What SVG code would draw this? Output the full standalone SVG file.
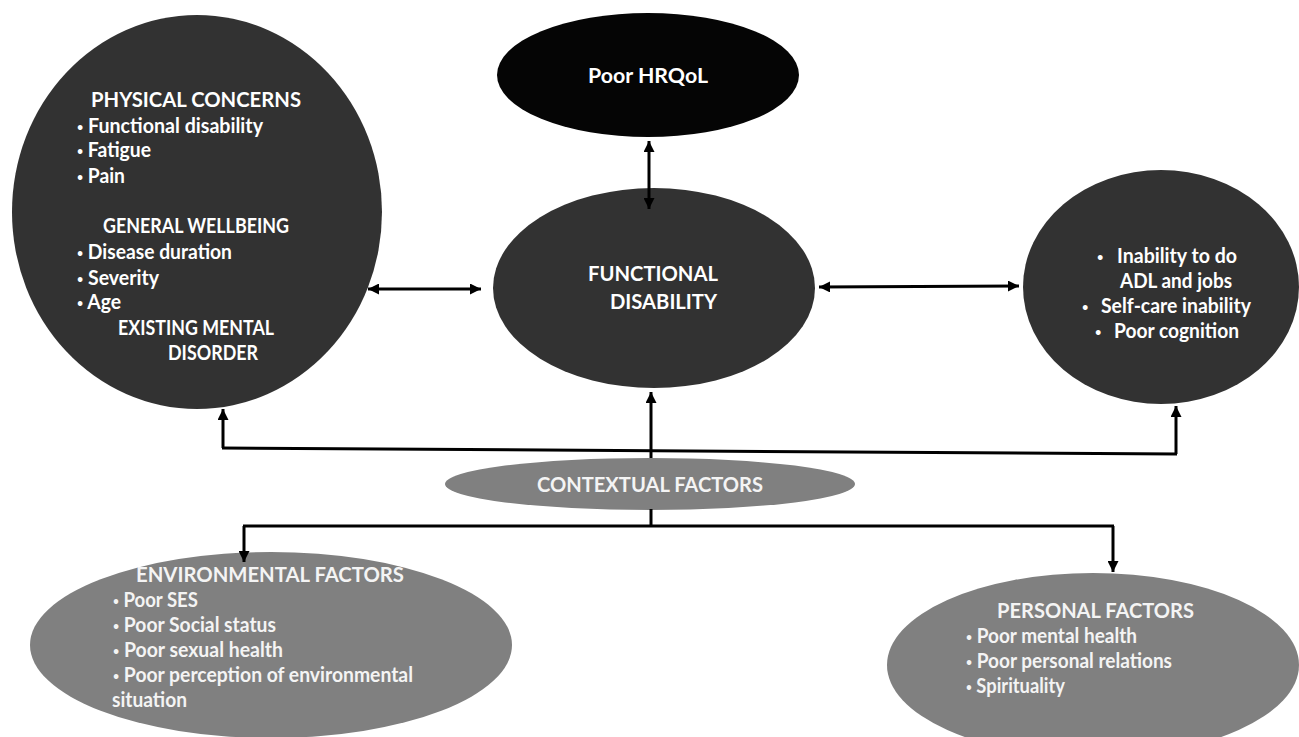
<svg xmlns="http://www.w3.org/2000/svg" width="1299" height="737" viewBox="0 0 1299 737">
<style>
text{font-family:Lato,"Liberation Sans",sans-serif;font-weight:700;font-size:20px;fill:#ffffff}
.b{font-size:11px}
.dark{fill:#323232}
.black{fill:#050505}
.gray{fill:#808080}
.gt{fill:#f4f4f4}
.conn{stroke:#000;stroke-width:3;fill:none}
</style>
<defs>
<marker id="ah" viewBox="0 0 10 10" refX="10" refY="5" markerWidth="11" markerHeight="11" markerUnits="userSpaceOnUse" orient="auto-start-reverse">
<path d="M0,0 L10,5 L0,10 z" fill="#000"/>
</marker>
</defs>
<rect width="1299" height="737" fill="#ffffff"/>

<g id="physical">
<ellipse class="dark" cx="197" cy="212" rx="185" ry="197"/>
<text x="91" y="107" textLength="210" lengthAdjust="spacingAndGlyphs">PHYSICAL CONCERNS</text>
<text x="77" y="133" textLength="186" lengthAdjust="spacingAndGlyphs"><tspan class="b" dy="-2">•</tspan><tspan dy="2"> Functional disability</tspan></text>
<text x="77" y="157" textLength="74" lengthAdjust="spacingAndGlyphs"><tspan class="b" dy="-2">•</tspan><tspan dy="2"> Fatigue</tspan></text>
<text x="77" y="183" textLength="48" lengthAdjust="spacingAndGlyphs"><tspan class="b" dy="-2">•</tspan><tspan dy="2"> Pain</tspan></text>
<text x="103" y="233" textLength="186" lengthAdjust="spacingAndGlyphs">GENERAL WELLBEING</text>
<text x="77" y="259" textLength="155" lengthAdjust="spacingAndGlyphs"><tspan class="b" dy="-2">•</tspan><tspan dy="2"> Disease duration</tspan></text>
<text x="77" y="285" textLength="82" lengthAdjust="spacingAndGlyphs"><tspan class="b" dy="-2">•</tspan><tspan dy="2"> Severity</tspan></text>
<text x="77" y="309" textLength="44" lengthAdjust="spacingAndGlyphs"><tspan class="b" dy="-2">•</tspan><tspan dy="2"> Age</tspan></text>
<text x="118" y="335" textLength="156" lengthAdjust="spacingAndGlyphs">EXISTING MENTAL</text>
<text x="168" y="360" textLength="90" lengthAdjust="spacingAndGlyphs">DISORDER</text>
</g>

<g id="hrqol">
<ellipse class="black" cx="648" cy="75" rx="151" ry="62"/>
<text x="588" y="83" textLength="120" lengthAdjust="spacingAndGlyphs">Poor HRQoL</text>
</g>

<g id="functional">
<ellipse class="dark" cx="654" cy="288" rx="161" ry="100"/>
<text x="588" y="281" textLength="130" lengthAdjust="spacingAndGlyphs">FUNCTIONAL</text>
<text x="610" y="309" textLength="107" lengthAdjust="spacingAndGlyphs">DISABILITY</text>
</g>

<g id="outcomes">
<ellipse class="dark" cx="1161" cy="287" rx="138" ry="117"/>
<text class="b" x="1097" y="261">•</text>
<text x="1117" y="263" textLength="120" lengthAdjust="spacingAndGlyphs">Inability to do</text>
<text x="1120" y="288" textLength="112" lengthAdjust="spacingAndGlyphs">ADL and jobs</text>
<text class="b" x="1082" y="311">•</text>
<text x="1101" y="313" textLength="150" lengthAdjust="spacingAndGlyphs">Self-care inability</text>
<text class="b" x="1095" y="336">•</text>
<text x="1114" y="338" textLength="125" lengthAdjust="spacingAndGlyphs">Poor cognition</text>
</g>

<g id="contextual">
<ellipse class="gray" cx="650" cy="484" rx="205" ry="26"/>
<text class="gt" x="537" y="492" textLength="226" lengthAdjust="spacingAndGlyphs">CONTEXTUAL FACTORS</text>
</g>

<g id="environmental">
<ellipse class="gray" cx="271" cy="645" rx="241" ry="93"/>
<text class="gt" x="136" y="582" textLength="268" lengthAdjust="spacingAndGlyphs">ENVIRONMENTAL FACTORS</text>
<text class="gt" x="113" y="607" textLength="85" lengthAdjust="spacingAndGlyphs"><tspan class="b" dy="-2">•</tspan><tspan dy="2"> Poor SES</tspan></text>
<text class="gt" x="113" y="632" textLength="163" lengthAdjust="spacingAndGlyphs"><tspan class="b" dy="-2">•</tspan><tspan dy="2"> Poor Social status</tspan></text>
<text class="gt" x="113" y="657" textLength="170" lengthAdjust="spacingAndGlyphs"><tspan class="b" dy="-2">•</tspan><tspan dy="2"> Poor sexual health</tspan></text>
<text class="gt" x="113" y="682" textLength="300" lengthAdjust="spacingAndGlyphs"><tspan class="b" dy="-2">•</tspan><tspan dy="2"> Poor perception of environmental</tspan></text>
<text class="gt" x="112" y="707" textLength="75" lengthAdjust="spacingAndGlyphs">situation</text>
</g>

<g id="personal">
<ellipse class="gray" cx="1093" cy="665" rx="206" ry="92"/>
<text class="gt" x="997" y="618" textLength="197" lengthAdjust="spacingAndGlyphs">PERSONAL FACTORS</text>
<text class="gt" x="966" y="643" textLength="171" lengthAdjust="spacingAndGlyphs"><tspan class="b" dy="-2">•</tspan><tspan dy="2"> Poor mental health</tspan></text>
<text class="gt" x="966" y="668" textLength="206" lengthAdjust="spacingAndGlyphs"><tspan class="b" dy="-2">•</tspan><tspan dy="2"> Poor personal relations</tspan></text>
<text class="gt" x="966" y="693" textLength="99" lengthAdjust="spacingAndGlyphs"><tspan class="b" dy="-2">•</tspan><tspan dy="2"> Spirituality</tspan></text>
</g>

<g id="connectors">
<path class="conn" d="M649,141 L649,209" marker-start="url(#ah)" marker-end="url(#ah)"/>
<path class="conn" d="M368,289 L481,289" marker-start="url(#ah)" marker-end="url(#ah)"/>
<path class="conn" d="M819,287 L1019,286" marker-start="url(#ah)" marker-end="url(#ah)"/>
<path class="conn" d="M222,448 L1177,454"/>
<path class="conn" d="M223,448 L223,409" marker-end="url(#ah)"/>
<path class="conn" d="M1176,454 L1176,406" marker-end="url(#ah)"/>
<path class="conn" d="M651,458 L651,392" marker-end="url(#ah)"/>
<path class="conn" d="M651,509 L651,526"/>
<path class="conn" d="M243,526 L1114,526"/>
<path class="conn" d="M244,526 L244,562" marker-end="url(#ah)"/>
<path class="conn" d="M1113,526 L1113,572" marker-end="url(#ah)"/>
</g>
</svg>
